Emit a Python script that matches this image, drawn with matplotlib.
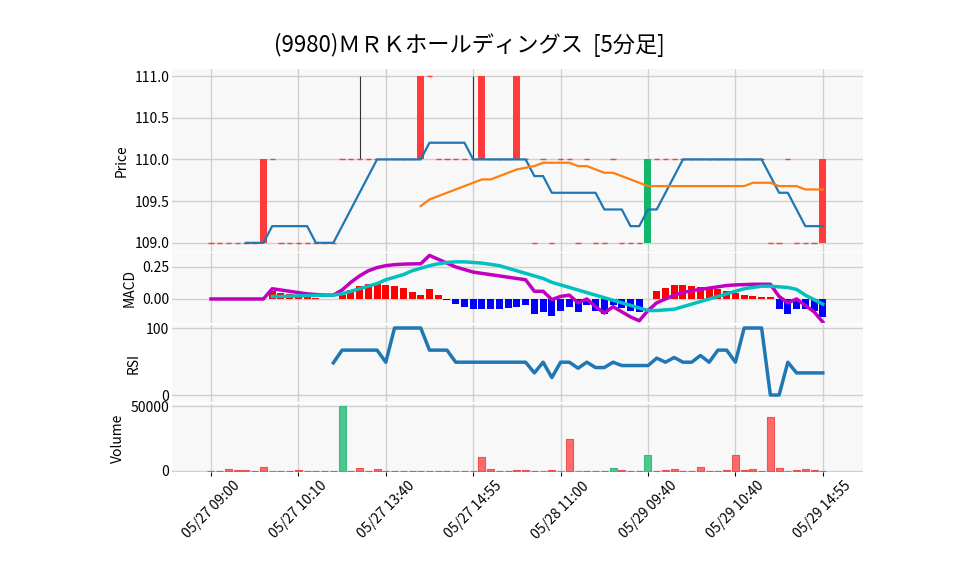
import numpy as np
import matplotlib
matplotlib.use("Agg")
import matplotlib.pyplot as plt

plt.rcParams['font.family'] = 'Noto Sans CJK JP'

title = "(9980)ＭＲＫホールディングス  [5分足]"
tick_labels = ['05/27 09:00', '05/27 10:10', '05/27 13:40', '05/27 14:55',
               '05/28 11:00', '05/29 09:40', '05/29 10:40', '05/29 14:55']

closes = [109,109,109,109,109,109,110,110,109,109,109,109,109,109,109,110,110,110,110,110,
          110,110,110,110,111,111,110,110,110,110,110,111,110,110,110,111,110,109,110,109,
          110,110,109,110,109,109,110,109,109,109,109,110,110,110,110,110,110,110,110,110,
          110,110,110,110,109,109,110,109,109,109,110]
opens = list(closes)
opens[6] = 109; opens[24] = 110; opens[31] = 110; opens[35] = 110; opens[50] = 110; opens[70] = 109
highs = [max(o, c) for o, c in zip(opens, closes)]
highs[17] = 111; highs[30] = 111
lows = [min(o, c) for o, c in zip(opens, closes)]

nan = np.nan
ma5 = [nan]*4 + [109,109,109,109.2,109.2,109.2,109.2,109.2,109,109,109,109.2,109.4,109.6,109.8,110,
       110,110,110,110,110,110.2,110.2,110.2,110.2,110.2,110,110,110,110,110,110,110,109.8,109.8,109.6,
       109.6,109.6,109.6,109.6,109.6,109.4,109.4,109.4,109.2,109.2,109.4,109.4,109.6,109.8,110,
       110,110,110,110,110,110,110,110,110,109.8,109.6,109.6,109.4,109.2,109.2,109.2]
ma25 = [nan]*24 + [109.44,109.52,109.56,109.6,109.64,109.68,109.72,109.76,109.76,109.8,109.84,109.88,
        109.9,109.92,109.96,109.96,109.96,109.96,109.92,109.92,109.88,109.84,109.84,109.8,109.76,109.72,
        109.68,109.68,109.68,109.68,109.68,109.68,109.68,109.68,109.68,109.68,109.68,109.68,
        109.72,109.72,109.72,109.68,109.68,109.68,109.64,109.64,109.64]

macd = [0,0,0,0,0,0,0,0.08,0.07,0.06,0.05,0.04,0.035,0.03,0.03,0.07,0.13,0.18,0.22,0.245,
        0.26,0.268,0.272,0.274,0.275,0.34,0.31,0.28,0.25,0.23,0.21,0.2,0.19,0.18,0.17,0.16,0.15,0.06,0.06,-0.005,
        0.02,0.03,-0.03,0.0,-0.06,-0.11,-0.06,-0.1,-0.14,-0.17,-0.09,-0.03,0.0,0.03,0.05,0.065,0.075,0.085,0.095,0.105,
        0.11,0.112,0.115,0.115,0.115,0.02,-0.03,0.0,-0.05,-0.1,-0.18]
signal = [nan]*7 + [0.02,0.02,0.022,0.024,0.026,0.028,0.03,0.03,0.04,0.06,0.08,0.10,0.12,
          0.15,0.17,0.19,0.22,0.24,0.26,0.275,0.285,0.29,0.29,0.285,0.28,0.27,0.26,0.24,0.22,0.20,0.18,0.16,0.13,
          0.11,0.09,0.07,0.05,0.03,0.01,-0.01,-0.03,-0.05,-0.07,-0.09,-0.09,-0.085,-0.08,-0.06,-0.04,-0.02,0.0,0.02,0.04,
          0.06,0.08,0.09,0.10,0.10,0.095,0.09,0.075,0.03,-0.005,-0.04]
signal = signal[:71]

rsi = [nan]*14 + [48,67,67,67,67,67,49,100,100,100,100,67,67,67,49,49,49,49,49,49,49,49,49,33,49,26,
       49,49,40,49,41,41,49,44,44,44,44,55,49,56,49,49,59,49,67,67,49,100,100,100,0,0,49,33,33,33,33]

volume = [200,300,1300,600,600,200,3000,200,300,300,900,200,200,200,200,50000,300,2500,300,1700,
          200,200,200,200,200,200,200,200,200,200,200,10700,1500,200,200,800,600,300,300,1000,
          300,25000,200,200,200,200,2000,700,200,200,12300,300,800,1200,200,200,3300,200,200,600,
          12300,700,1200,100,41300,2000,300,700,1200,800,300]
vol_green = [7, 15, 28, 38, 40, 42, 46, 50, 66]

x = np.arange(len(closes))
W, H = 958, 575
fig = plt.figure(figsize=(W/100, H/100), dpi=100)

def add_ax(top, bottom):
    l, r = 172, 863
    return fig.add_axes([l/W, 1-bottom/H, (r-l)/W, (bottom-top)/H])

bg = '#f8f8f8'; gc = '#d0d0d0'
ax1 = add_ax(69, 252); ax2 = add_ax(253, 323); ax3 = add_ax(325, 402); ax4 = add_ax(404, 472)
axes = [ax1, ax2, ax3, ax4]
for a in axes:
    a.set_facecolor(bg)
    a.grid(True, color=gc, lw=1)
    a.set_axisbelow(True)
    for s_ in a.spines.values():
        s_.set_visible(False)
    a.set_xlim(-4.46, 74.6)
    a.set_xticks(np.arange(0, 71, 10))
    a.tick_params(labelsize=10, length=0, pad=2)
for a in axes[:-1]:
    a.tick_params(labelbottom=False)
ax4.tick_params(axis='x', length=3)
ax4.set_xticklabels(tick_labels, rotation=45, ha='center')

red = '#ff3b3b'; green = '#13b66a'
for i in x:
    o, c = opens[i], closes[i]
    if highs[i] > max(o, c) or lows[i] < min(o, c):
        ax1.vlines(i, lows[i], highs[i], color='#333333', lw=0.8, zorder=2)
    if o == c:
        ax1.hlines(c, i-0.3, i+0.3, color=red, lw=1, zorder=3)
    else:
        col = red if c > o else green
        ax1.bar(i, abs(c-o), bottom=min(o, c), width=0.8, color=col, zorder=3)
ax1.plot(x, ma5, color='#1f77b4', lw=1.6, zorder=4)
ax1.plot(x, ma25, color='#ff7f0e', lw=1.6, zorder=4)
ax1.set_ylim(108.89, 111.084)
ax1.set_yticks([109.0, 109.5, 110.0, 110.5, 111.0])
ax1.set_yticklabels(['109.0', '109.5', '110.0', '110.5', '111.0'])
ax1.set_ylabel('Price', fontsize=10)

m = np.array(macd); s = np.array(signal)
hist = m - s
hc = ['red' if h >= 0 else 'blue' for h in np.nan_to_num(hist)]
ax2.bar(x, np.nan_to_num(hist), width=0.8, color=hc, zorder=2)
ax2.plot(x, m, color='#c000c0', lw=2.5, zorder=3)
ax2.plot(x, s, color='#00c0c0', lw=2.5, zorder=3)
ax2.set_ylim(-0.1875, 0.359)
ax2.set_yticks([0.0, 0.25]); ax2.set_yticklabels(['0.00', '0.25'])
ax2.set_ylabel('MACD', fontsize=10)

ax3.plot(x, rsi, color='#1f77b4', lw=2.5)
ax3.set_ylim(-10.4, 104.5)
ax3.set_yticks([0, 100])
ax3.set_ylabel('RSI', fontsize=10)

vc = ['#4dc790' if i in vol_green else '#ff6b6b' for i in x]
ec = ['#3cb97d' if i in vol_green else '#f05050' for i in x]
ax4.bar(x, volume, width=0.8, color=vc, edgecolor=ec, lw=0.8)
ax4.set_ylim(-770, 51540)
ax4.set_yticks([0, 50000])
ax4.set_ylabel('Volume', fontsize=10)

fig.text(469/W, 1-45/H, title, ha='center', va='center', fontsize=16)
fig.savefig('out.png', dpi=100)
